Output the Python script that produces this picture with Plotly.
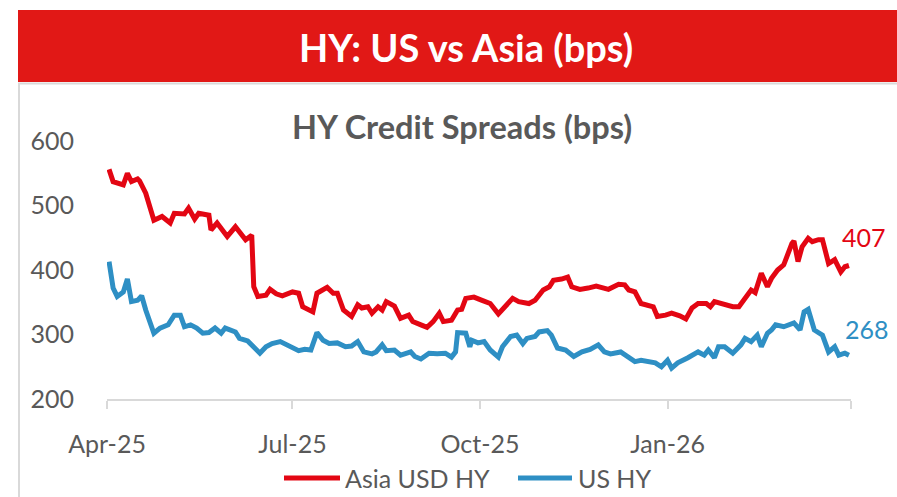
import plotly.graph_objects as go

# ---------------- data ----------------
asia_dates = [
    "2025-04-02", "2025-04-04", "2025-04-09", "2025-04-11", "2025-04-13", "2025-04-16",
    "2025-04-17", "2025-04-20", "2025-04-24", "2025-04-28", "2025-05-02", "2025-05-04",
    "2025-05-09", "2025-05-11", "2025-05-14", "2025-05-16", "2025-05-21", "2025-05-22",
    "2025-05-25", "2025-05-30", "2025-06-03", "2025-06-05", "2025-06-08", "2025-06-11",
    "2025-06-12", "2025-06-14", "2025-06-18", "2025-06-20", "2025-06-23", "2025-06-26",
    "2025-07-01", "2025-07-04", "2025-07-06", "2025-07-11", "2025-07-13", "2025-07-18",
    "2025-07-21", "2025-07-23", "2025-07-26", "2025-07-30", "2025-08-02", "2025-08-04",
    "2025-08-07", "2025-08-09", "2025-08-12", "2025-08-14", "2025-08-16", "2025-08-20",
    "2025-08-23", "2025-08-27", "2025-08-29", "2025-09-02", "2025-09-05", "2025-09-08",
    "2025-09-11", "2025-09-13", "2025-09-17", "2025-09-20", "2025-09-22", "2025-09-24",
    "2025-09-28", "2025-10-02", "2025-10-06", "2025-10-10", "2025-10-14", "2025-10-17",
    "2025-10-20", "2025-10-25", "2025-10-28", "2025-11-01", "2025-11-04", "2025-11-06",
    "2025-11-10", "2025-11-13", "2025-11-15", "2025-11-19", "2025-11-23", "2025-11-27",
    "2025-12-03", "2025-12-08", "2025-12-11", "2025-12-13", "2025-12-16", "2025-12-19",
    "2025-12-25", "2025-12-27", "2025-12-31", "2026-01-03", "2026-01-07", "2026-01-10",
    "2026-01-13", "2026-01-16", "2026-01-20", "2026-01-22", "2026-01-24", "2026-01-28",
    "2026-02-02", "2026-02-05", "2026-02-08", "2026-02-11", "2026-02-13", "2026-02-16",
    "2026-02-19", "2026-02-21", "2026-02-24", "2026-02-27", "2026-03-03", "2026-03-04",
    "2026-03-06", "2026-03-08", "2026-03-11", "2026-03-13", "2026-03-16", "2026-03-18",
    "2026-03-21", "2026-03-24", "2026-03-27", "2026-03-29", "2026-03-31",
]
asia_values = [
    556, 537, 532, 550, 537, 541,
    538, 519, 477, 483, 473, 488,
    487, 496, 479, 488, 485, 462,
    473, 452, 467, 459, 447, 454,
    374, 359, 361, 370, 363, 360,
    366, 364, 343, 335, 364, 373,
    364, 364, 338, 328, 346, 341,
    343, 333, 343, 338, 351, 344,
    325, 330, 320, 315, 311, 320,
    333, 320, 322, 338, 339, 356,
    358, 353, 348, 332, 346, 356,
    351, 348, 353, 369, 374, 384,
    386, 389, 374, 370, 372, 375,
    370, 378, 377, 369, 366, 348,
    343, 328, 330, 333, 329, 324,
    341, 348, 348, 343, 351, 347,
    343, 343, 356, 369, 365, 395,
    374, 387, 400, 408, 441, 445,
    413, 436, 449, 444, 447, 447,
    410, 416, 397, 405, 407,
]

us_dates = [
    "2025-04-02", "2025-04-04", "2025-04-06", "2025-04-09", "2025-04-11", "2025-04-13",
    "2025-04-16", "2025-04-18", "2025-04-20", "2025-04-24", "2025-04-27", "2025-05-01",
    "2025-05-04", "2025-05-07", "2025-05-09", "2025-05-12", "2025-05-15", "2025-05-18",
    "2025-05-21", "2025-05-24", "2025-05-27", "2025-05-29", "2025-06-03", "2025-06-05",
    "2025-06-09", "2025-06-12", "2025-06-15", "2025-06-18", "2025-06-21", "2025-06-25",
    "2025-06-28", "2025-07-01", "2025-07-04", "2025-07-07", "2025-07-10", "2025-07-13",
    "2025-07-16", "2025-07-19", "2025-07-23", "2025-07-27", "2025-07-30", "2025-08-02",
    "2025-08-05", "2025-08-09", "2025-08-11", "2025-08-14", "2025-08-16", "2025-08-20",
    "2025-08-23", "2025-08-25", "2025-08-28", "2025-08-30", "2025-09-02", "2025-09-06",
    "2025-09-10", "2025-09-14", "2025-09-17", "2025-09-19", "2025-09-20", "2025-09-24",
    "2025-09-26", "2025-09-27", "2025-09-30", "2025-10-03", "2025-10-06", "2025-10-10",
    "2025-10-12", "2025-10-16", "2025-10-19", "2025-10-22", "2025-10-24", "2025-10-28",
    "2025-10-30", "2025-11-03", "2025-11-05", "2025-11-08", "2025-11-12", "2025-11-16",
    "2025-11-20", "2025-11-24", "2025-11-28", "2025-12-01", "2025-12-04", "2025-12-09",
    "2025-12-16", "2025-12-19", "2025-12-26", "2025-12-29", "2026-01-01", "2026-01-03",
    "2026-01-06", "2026-01-11", "2026-01-16", "2026-01-19", "2026-01-21", "2026-01-24",
    "2026-01-26", "2026-01-29", "2026-02-02", "2026-02-06", "2026-02-08", "2026-02-11",
    "2026-02-14", "2026-02-16", "2026-02-19", "2026-02-21", "2026-02-23", "2026-02-27",
    "2026-03-04", "2026-03-07", "2026-03-09", "2026-03-11", "2026-03-14", "2026-03-18",
    "2026-03-21", "2026-03-24", "2026-03-26", "2026-03-29", "2026-03-31",
]
us_values = [
    413, 372, 359, 366, 386, 351,
    353, 360, 338, 302, 310, 315,
    330, 330, 312, 315, 310, 302,
    303, 310, 302, 310, 304, 294,
    290, 281, 271, 281, 286, 289,
    284, 281, 275, 277, 276, 303,
    291, 286, 287, 281, 282, 289,
    273, 270, 273, 284, 275, 276,
    268, 270, 273, 266, 262, 271,
    270, 271, 265, 273, 303, 302,
    281, 291, 287, 289, 276, 265,
    281, 297, 299, 286, 294, 297,
    304, 306, 299, 279, 276, 266,
    273, 277, 284, 273, 270, 273,
    258, 260, 256, 250, 260, 248,
    256, 264, 273, 268, 276, 264,
    281, 281, 271, 284, 294, 289,
    299, 281, 302, 307, 315, 312,
    318, 307, 335, 339, 307, 299,
    273, 281, 268, 271, 268,
]

series_names = ["Asia USD HY", "US HY"]
end_labels = ["407", "268"]
y_tick_values = [200, 300, 400, 500, 600]
x_tick_dates = ["2025-04-01", "2025-07-01", "2025-10-01", "2026-01-01", "2026-04-01"]
x_tick_labels = ["Apr-25", "Jul-25", "Oct-25", "Jan-26", ""]
header_text = "HY: US vs Asia (bps)"
chart_title = "HY Credit Spreads (bps)"

# ---------------- styling ----------------
RED = "#E30613"
BLUE = "#2E8FC4"
BANNER = "#E11816"
GRAY_TXT = "#595959"
AXIS_GRAY = "#D9D9D9"
FONT = "Lato"

W, H = 897, 497
L, R, T, B = 107, 851, 141, 399


def px(x):
    return (x - L) / (R - L)


def py(y):
    return (B - y) / (B - T)


fig = go.Figure()
fig.add_trace(go.Scatter(x=asia_dates, y=asia_values, mode="lines", name=series_names[0],
                         line=dict(color=RED, width=5), showlegend=False))
fig.add_trace(go.Scatter(x=us_dates, y=us_values, mode="lines", name=series_names[1],
                         line=dict(color=BLUE, width=5), showlegend=False))

shapes = [
    dict(type="rect", xref="paper", yref="paper", x0=px(18), x1=px(905), y0=py(82), y1=py(10),
         fillcolor=BANNER, line=dict(width=0), layer="below"),
    dict(type="line", xref="paper", yref="paper", x0=px(18), x1=px(905), y0=py(83.5), y1=py(83.5),
         line=dict(color=AXIS_GRAY, width=2)),
    dict(type="line", xref="paper", yref="paper", x0=px(19), x1=px(19), y0=py(83), y1=py(505),
         line=dict(color=AXIS_GRAY, width=2)),
    # legend samples
    dict(type="line", xref="paper", yref="paper", x0=px(284), x1=px(340), y0=py(478), y1=py(478),
         line=dict(color=RED, width=5)),
    dict(type="line", xref="paper", yref="paper", x0=px(518), x1=px(572), y0=py(478), y1=py(478),
         line=dict(color=BLUE, width=5)),
]

annotations = [
    dict(text=header_text, xref="paper", yref="paper", x=px(466), y=py(47),
         showarrow=False, xanchor="center", yanchor="middle",
         font=dict(family=FONT, size=38, color="white", weight="bold")),
    dict(text=chart_title, xref="paper", yref="paper", x=px(462), y=py(127),
         showarrow=False, xanchor="center", yanchor="middle",
         font=dict(family=FONT, size=32.5, color=GRAY_TXT, weight="bold")),
    dict(text=series_names[0], xref="paper", yref="paper", x=px(343), y=py(478),
         showarrow=False, xanchor="left", yanchor="middle",
         font=dict(family=FONT, size=25, color=GRAY_TXT)),
    dict(text=series_names[1], xref="paper", yref="paper", x=px(576), y=py(478),
         showarrow=False, xanchor="left", yanchor="middle",
         font=dict(family=FONT, size=25, color=GRAY_TXT)),
    dict(text=end_labels[0], x=asia_dates[-1], y=asia_values[-1], xref="x", yref="y",
         showarrow=False, xanchor="left", yanchor="middle", xshift=-9, yshift=28,
         font=dict(family=FONT, size=25, color=RED)),
    dict(text=end_labels[1], x=us_dates[-1], y=us_values[-1], xref="x", yref="y",
         showarrow=False, xanchor="left", yanchor="middle", xshift=-6, yshift=26,
         font=dict(family=FONT, size=25, color=BLUE)),
]

fig.update_layout(
    width=W, height=H,
    margin=dict(l=L, r=W - R, t=T, b=H - B, pad=0),
    paper_bgcolor="white", plot_bgcolor="white",
    font=dict(family=FONT, size=25, color=GRAY_TXT),
    shapes=shapes, annotations=annotations,
    showlegend=False,
)
fig.update_xaxes(
    type="date", range=["2025-04-01", "2026-04-01"],
    tickmode="array", tickvals=x_tick_dates, ticktext=x_tick_labels,
    showgrid=False, zeroline=False,
    showline=True, linecolor=AXIS_GRAY, linewidth=2,
    ticks="outside", ticklen=8, tickwidth=2, tickcolor=AXIS_GRAY,
    tickfont=dict(family=FONT, size=25, color=GRAY_TXT),
    ticklabelstandoff=14,
)
fig.update_yaxes(
    range=[200, 600], tickmode="array", tickvals=y_tick_values,
    showgrid=False, zeroline=False, showline=False, ticks="",
    tickfont=dict(family=FONT, size=25, color=GRAY_TXT),
    ticklabelstandoff=32,
)

fig.write_html(
    "out.html",
    config={"displayModeBar": False},
    post_script="document.body.style.margin='0';document.body.style.overflow='hidden';",
)
